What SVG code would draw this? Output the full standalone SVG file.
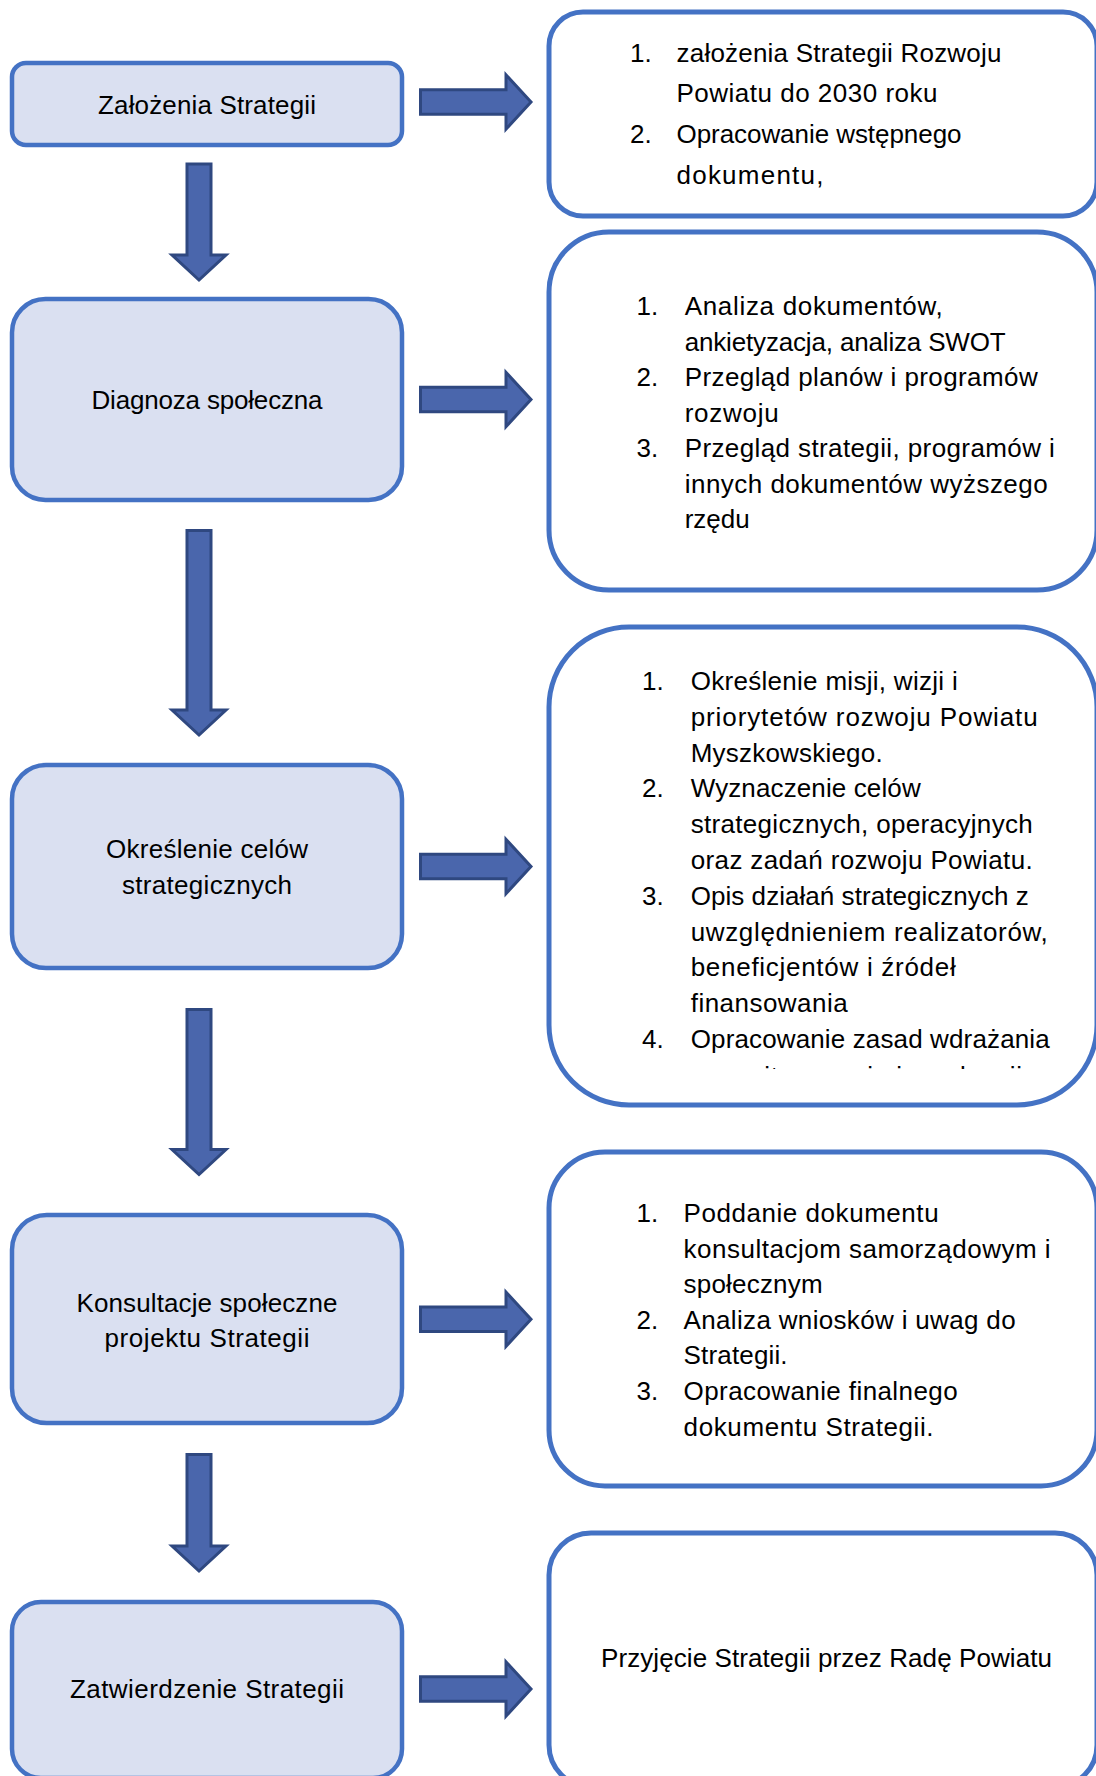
<svg xmlns="http://www.w3.org/2000/svg" width="1096" height="1776" viewBox="0 0 1096 1776">
<style>
  text { font-family: "Liberation Sans", Arial, sans-serif; font-size: 26px; fill: #000; }
  .lbox { fill: #dae0f1; stroke: #4472c4; stroke-width: 4.5; }
  .rbox { fill: #ffffff; stroke: #4472c4; stroke-width: 5; }
  .arrow { fill: #4a66ac; stroke: #2f4880; stroke-width: 3; stroke-linejoin: miter; }
  .c { text-anchor: middle; }
</style>
<defs>
  <path id="harrow" d="M420.5,-12.2 H506 V-27.2 L531,0 L506,27.2 V12.2 H420.5 Z"/>
  <clipPath id="clip3"><rect x="549" y="627" width="548" height="442"/></clipPath>
</defs>

<g id="connectors">
  <use href="#harrow" class="arrow" transform="translate(0,102)"/>
  <use href="#harrow" class="arrow" transform="translate(0,399.5)"/>
  <use href="#harrow" class="arrow" transform="translate(0,866.5)"/>
  <use href="#harrow" class="arrow" transform="translate(0,1319.3)"/>
  <use href="#harrow" class="arrow" transform="translate(0,1689)"/>
  <path class="arrow" d="M187,164 H211 V255 H226 L199,280 L172,255 H187 Z"/>
  <path class="arrow" d="M187,530.5 H211 V710 H226 L199,735 L172,710 H187 Z"/>
  <path class="arrow" d="M187,1009.5 H211 V1149.5 H226 L199,1174.5 L172,1149.5 H187 Z"/>
  <path class="arrow" d="M187,1454.5 H211 V1546 H226 L199,1571 L172,1546 H187 Z"/>
</g>

<g id="node-zalozenia">
  <rect class="lbox" x="12" y="63" width="390" height="82" rx="14"/>
  <text class="c" x="207" y="114" textLength="218">Założenia Strategii</text>
</g>

<g id="node-diagnoza">
  <rect class="lbox" x="12" y="299" width="390" height="201" rx="33.5"/>
  <text class="c" x="207" y="409" textLength="231">Diagnoza społeczna</text>
</g>

<g id="node-okreslenie">
  <rect class="lbox" x="12" y="765" width="390" height="203" rx="34"/>
  <text class="c" x="207" y="858" textLength="202">Określenie celów</text>
  <text class="c" x="207" y="893.5" textLength="170">strategicznych</text>
</g>

<g id="node-konsultacje">
  <rect class="lbox" x="12" y="1215" width="390" height="208" rx="34.7"/>
  <text class="c" x="207" y="1311.7" textLength="261">Konsultacje społeczne</text>
  <text class="c" x="207" y="1346.7" textLength="205">projektu Strategii</text>
</g>

<g id="node-zatwierdzenie">
  <rect class="lbox" x="12" y="1602" width="390" height="176" rx="29"/>
  <text class="c" x="207" y="1698" textLength="274">Zatwierdzenie Strategii</text>
</g>

<g id="node-r1">
  <rect class="rbox" x="549" y="12" width="548" height="204" rx="34"/>
  <text x="630" y="61.5">1.</text>
  <text x="676.5" y="61.5" textLength="325">założenia Strategii Rozwoju</text>
  <text x="676.5" y="102.3" textLength="261">Powiatu do 2030 roku</text>
  <text x="630" y="143.1">2.</text>
  <text x="676.5" y="143.1" textLength="285">Opracowanie wstępnego</text>
  <text x="676.5" y="183.9" textLength="147">dokumentu,</text>
</g>

<g id="node-r2">
  <rect class="rbox" x="549" y="232" width="548" height="358" rx="60"/>
  <text x="636.5" y="315">1.</text>
  <text x="684.7" y="315" textLength="258">Analiza dokumentów,</text>
  <text x="684.7" y="350.5" textLength="321">ankietyzacja, analiza SWOT</text>
  <text x="636.5" y="386">2.</text>
  <text x="684.7" y="386" textLength="353">Przegląd planów i programów</text>
  <text x="684.7" y="421.5" textLength="94">rozwoju</text>
  <text x="636.5" y="457">3.</text>
  <text x="684.7" y="457" textLength="370">Przegląd strategii, programów i</text>
  <text x="684.7" y="492.5" textLength="363">innych dokumentów wyższego</text>
  <text x="684.7" y="528" textLength="65">rzędu</text>
</g>

<g id="node-r3">
  <rect class="rbox" x="549" y="627" width="548" height="478" rx="80"/>
  <text x="642" y="690">1.</text>
  <text x="690.7" y="690" textLength="267">Określenie misji, wizji i</text>
  <text x="690.7" y="725.8" textLength="347">priorytetów rozwoju Powiatu</text>
  <text x="690.7" y="761.6" textLength="192">Myszkowskiego.</text>
  <text x="642" y="797.4">2.</text>
  <text x="690.7" y="797.4" textLength="230">Wyznaczenie celów</text>
  <text x="690.7" y="833.2" textLength="342">strategicznych, operacyjnych</text>
  <text x="690.7" y="869" textLength="342">oraz zadań rozwoju Powiatu.</text>
  <text x="642" y="904.8">3.</text>
  <text x="690.7" y="904.8" textLength="338">Opis działań strategicznych z</text>
  <text x="690.7" y="940.6" textLength="357">uwzględnieniem realizatorów,</text>
  <text x="690.7" y="976.4" textLength="265">beneficjentów i źródeł</text>
  <text x="690.7" y="1012.2" textLength="157">finansowania</text>
  <text x="642" y="1048">4.</text>
  <text x="690.7" y="1048" textLength="359">Opracowanie zasad wdrażania</text>
  <text x="712" y="1085" textLength="310" clip-path="url(#clip3)">monitorowania i ewaluacji</text>
</g>

<g id="node-r4">
  <rect class="rbox" x="549" y="1152" width="548" height="334" rx="56"/>
  <text x="636.5" y="1222">1.</text>
  <text x="683.6" y="1222" textLength="255">Poddanie dokumentu</text>
  <text x="683.6" y="1257.6" textLength="367">konsultacjom samorządowym i</text>
  <text x="683.6" y="1293.2" textLength="139">społecznym</text>
  <text x="636.5" y="1328.8">2.</text>
  <text x="683.6" y="1328.8" textLength="332">Analiza wniosków i uwag do</text>
  <text x="683.6" y="1364.4" textLength="104">Strategii.</text>
  <text x="636.5" y="1400">3.</text>
  <text x="683.6" y="1400" textLength="274">Opracowanie finalnego</text>
  <text x="683.6" y="1435.6" textLength="250">dokumentu Strategii.</text>
</g>

<g id="node-r5">
  <rect class="rbox" x="549" y="1533" width="548" height="254" rx="42"/>
  <text x="601" y="1667" textLength="451">Przyjęcie Strategii przez Radę Powiatu</text>
</g>
</svg>
